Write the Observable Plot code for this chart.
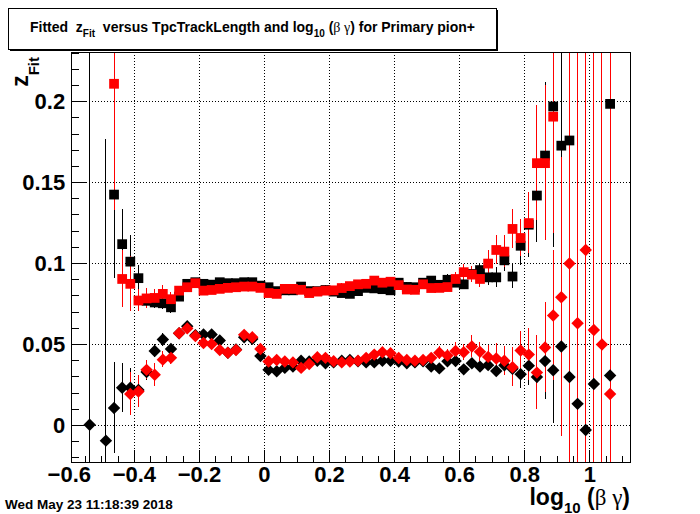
<!DOCTYPE html>
<html><head><meta charset="utf-8">
<script src="https://cdn.jsdelivr.net/npm/d3@7"></script>
<script src="https://cdn.jsdelivr.net/npm/@observablehq/plot@0.6"></script>
<style>body{margin:0;background:#fff}</style>
</head><body><div id="chart"></div>
<script>
// bin centres of log10(beta gamma)
const xBins = [-0.5375,-0.5125,-0.4875,-0.4625,-0.4375,-0.4125,-0.3875,-0.3625,-0.3375,-0.3125,
 -0.2875,-0.2625,-0.2375,-0.2125,-0.1875,-0.1625,-0.1375,-0.1125,-0.0875,-0.0625,
 -0.0375,-0.0125,0.0125,0.0375,0.0625,0.0875,0.1125,0.1375,0.1625,0.1875,
 0.2125,0.2375,0.2625,0.2875,0.3125,0.3375,0.3625,0.3875,0.4125,0.4375,
 0.4625,0.4875,0.5125,0.5375,0.5625,0.5875,0.6125,0.6375,0.6625,0.6875,
 0.7125,0.7375,0.7625,0.7875,0.8125,0.8375,0.8625,0.8875,0.9125,0.9375,
 0.9625,0.9875,1.0125,1.0375,1.0625];

// black squares
const blackSq = [null,null,null,0.1426,0.112,0.1012,0.091,0.077,0.076,0.0755,
 0.073,0.0796,0.0875,0.0885,0.0875,0.087,0.0885,0.0879,0.0879,0.0885,
 0.0885,0.0864,0.0854,0.083,0.0835,0.0835,0.0858,0.083,0.083,0.0837,
 0.0827,0.0818,0.0813,0.083,0.085,0.0847,0.0842,0.0835,0.0882,0.0856,
 0.0854,0.0882,0.0895,0.0869,0.09,0.0882,0.0872,0.0936,0.096,0.0915,
 0.0915,0.102,0.092,0.111,0.124,0.142,0.1667,0.197,0.1728,0.176,
 null,null,null,null,0.1986];
const blackSqErr = [0,0,0,0.052,0.0216,0.016,0.008,0.005,0.004,0.004,
 0.004,0.003,0.0025,0.0025,0.0025,0.0025,0.0025,0.0025,0.0025,0.0025,
 0.0025,0.0025,0.0025,0.0025,0.0025,0.0025,0.0025,0.0025,0.0025,0.0025,
 0.0025,0.0025,0.0025,0.0025,0.0025,0.0025,0.0025,0.0025,0.0025,0.0025,
 0.0025,0.0025,0.0025,0.0025,0.003,0.003,0.003,0.004,0.004,0.005,
 0.006,0.007,0.0075,0.012,0.02,0.029,0.045,0.087,0.1,0.12,
 0,0,0,0,0.2];

// red squares
const redSq = [null,null,null,0.211,0.0905,0.0875,0.0772,0.0785,0.0788,0.0813,
 0.078,0.0833,0.0854,0.0879,0.0833,0.0837,0.0844,0.085,0.0854,0.0858,
 0.0858,0.085,0.0818,0.0813,0.0844,0.0844,0.0838,0.0818,0.0827,0.0833,
 0.0835,0.0849,0.0861,0.0872,0.0875,0.0895,0.0882,0.0888,0.0867,0.084,
 0.0838,0.0872,0.0849,0.085,0.0855,0.0905,0.0947,0.0932,0.0905,0.1,
 0.1084,0.1074,0.1214,0.1158,0.125,0.162,0.162,0.1907,null,null,
 null,null,null,null,null];
const redSqErr = [0,0,0,0.078,0.0175,0.017,0.007,0.006,0.005,0.005,
 0.004,0.0025,0.0025,0.0025,0.0025,0.0025,0.0025,0.0025,0.0025,0.0025,
 0.0025,0.0025,0.0025,0.0025,0.0025,0.0025,0.0025,0.0025,0.0025,0.0025,
 0.0025,0.0025,0.0025,0.0025,0.0025,0.0025,0.0025,0.0025,0.0025,0.0025,
 0.0025,0.0025,0.0025,0.0025,0.003,0.004,0.005,0.005,0.005,0.008,
 0.009,0.01,0.012,0.0115,0.019,0.0355,0.048,0.072,0,0,
 0,0,0,0,0];

// black diamonds
const blackDia = [0.0005,null,-0.0093,0.0109,0.0233,0.0233,0.022,0.033,0.046,0.0531,
 0.0473,0.057,0.0613,0.0558,0.0562,0.0562,0.0525,0.045,0.047,0.0545,
 0.0535,0.043,0.0344,0.0335,0.0356,0.0364,0.04,0.0395,0.04,0.0385,
 0.039,0.04,0.0405,0.0397,0.039,0.039,0.04,0.04,0.0395,0.0385,
 0.039,0.0397,0.0364,0.0353,0.0397,0.0398,0.0347,0.0385,0.0364,0.0373,
 0.0337,0.0372,0.035,0.0317,0.037,0.03,0.0398,0.0342,0.0488,0.03,
 0.0134,-0.0027,0.0257,null,0.0309];
const blackDiaErr = [0.3,0,0.186,0.028,0.015,0.012,0.008,0.005,0.004,0.004,
 0.003,0.0025,0.0025,0.0025,0.0025,0.0025,0.0025,0.0025,0.0025,0.0025,
 0.0025,0.0025,0.0025,0.0025,0.0025,0.0025,0.0025,0.0025,0.0025,0.0025,
 0.0025,0.0025,0.0025,0.0025,0.0025,0.0025,0.0025,0.0025,0.0025,0.0025,
 0.0025,0.0025,0.0025,0.0025,0.0025,0.0025,0.0025,0.0025,0.0025,0.0025,
 0.003,0.004,0.005,0.009,0.012,0.013,0.024,0.033,0.05,0.08,
 0.1,0.1,0.12,0,0.15];

// red diamonds
const redDia = [null,null,null,null,null,0.0195,0.021,0.0344,0.0314,0.0407,
 0.0418,0.057,0.06,0.0553,0.051,0.0504,0.0467,0.0449,0.0467,0.056,
 0.0545,0.0473,0.0395,0.0405,0.0395,0.039,0.0356,0.038,0.0422,0.0418,
 0.0397,0.039,0.0395,0.04,0.0418,0.0438,0.0453,0.0446,0.0417,0.0405,
 0.04,0.0405,0.0418,0.045,0.0432,0.0461,0.0453,0.0488,0.0455,0.0424,
 0.0414,0.04,0.036,0.0463,0.0438,0.0327,0.0482,0.0679,0.0792,0.1,
 0.0632,0.1084,0.059,0.05,0.0195];
const redDiaErr = [0,0,0,0,0,0.013,0.01,0.006,0.007,0.005,
 0.004,0.0025,0.0025,0.0025,0.0025,0.0025,0.0025,0.0025,0.0025,0.0025,
 0.0025,0.0025,0.0025,0.0025,0.0025,0.0025,0.0025,0.0025,0.0025,0.0025,
 0.0025,0.0025,0.0025,0.0025,0.0025,0.0025,0.0025,0.0025,0.0025,0.0025,
 0.0025,0.0025,0.0025,0.004,0.004,0.005,0.005,0.007,0.006,0.007,
 0.0095,0.009,0.012,0.012,0.016,0.023,0.028,0.04,0.086,0.25,
 0.25,0.25,0.25,0.25,0.25];

const xTickLabels = [-0.6,-0.4,-0.2,0,0.2,0.4,0.6,0.8,1];
const yTickLabels = [0,0.05,0.1,0.15,0.2];
const xMinorTicks = [-0.55,-0.5,-0.45,-0.35,-0.3,-0.25,-0.15,-0.1,-0.05,0.05,0.1,0.15,0.25,0.3,0.35,0.45,0.5,0.55,0.65,0.7,0.75,0.85,0.9,0.95,1.05,1.1];
const yMinorTicks = [-0.02,-0.01,0.01,0.02,0.03,0.04,0.06,0.07,0.08,0.09,0.11,0.12,0.13,0.14,0.16,0.17,0.18,0.19,0.21,0.22,0.23];

const X0 = -0.5942, X1 = 1.1252, Y0 = -0.0228, Y1 = 0.2305;
const pxX = 325.3, pxY = 1620; // pixels per data unit

function rows(vals, errs) {
  return xBins.map((x, i) => ({x, v: vals[i], e: errs[i]})).filter(d => d.v != null);
}
const BS = rows(blackSq, blackSqErr), RS = rows(redSq, redSqErr),
      BD = rows(blackDia, blackDiaErr), RD = rows(redDia, redDiaErr);

const crisp = {shapeRendering: "crispEdges"};
const errBar = (data, color) => Plot.ruleX(data.filter(d => d.e > 0), {
  x: "x",
  y1: d => Math.max(d.v - d.e, Y0),
  y2: d => Math.min(d.v + d.e, Y1),
  stroke: color, strokeWidth: 1, ...crisp
});
const fmt = d => (d < 0 ? "\u2212" : "") + String(Math.abs(d));

const chart = Plot.plot({
  width: 700, height: 514,
  marginLeft: 70.7, marginRight: 70, marginTop: 51.7, marginBottom: 52,
  style: {fontFamily: "Liberation Sans, Arial, sans-serif", background: "white"},
  x: {domain: [X0, X1]},
  y: {domain: [Y0, Y1]},
  marks: [
    Plot.ruleX(xTickLabels.filter(d => d > X0), {stroke: "black", strokeDasharray: "1,2", strokeWidth: 1, ...crisp}),
    Plot.ruleY(yTickLabels, {stroke: "black", strokeDasharray: "1,2", strokeWidth: 1, ...crisp}),
    errBar(BS, "black"), errBar(BD, "black"),
    errBar(RS, "#ff0000"), errBar(RD, "#ff0000"),
    Plot.dot(BS, {x: "x", y: "v", symbol: "square", r: 5.5, fill: "black"}),
    Plot.dot(RS, {x: "x", y: "v", symbol: "square", r: 5.5, fill: "#ff0000"}),
    Plot.dot(BD, {x: "x", y: "v", symbol: "diamond2", r: 5.6, fill: "black"}),
    Plot.dot(RD, {x: "x", y: "v", symbol: "diamond2", r: 5.6, fill: "#ff0000"}),
    // inward ticks
    Plot.ruleX(xTickLabels.filter(d => d > X0), {x: d => d, y1: Y0, y2: Y0 + 12 / pxY, stroke: "black", ...crisp}),
    Plot.ruleX(xMinorTicks, {x: d => d, y1: Y0, y2: Y0 + 6 / pxY, stroke: "black", ...crisp}),
    Plot.ruleY(yTickLabels, {y: d => d, x1: X0, x2: X0 + 16.5 / pxX, stroke: "black", ...crisp}),
    Plot.ruleY(yMinorTicks, {y: d => d, x1: X0, x2: X0 + 8 / pxX, stroke: "black", ...crisp}),
    Plot.frame({stroke: "black", strokeWidth: 1, ...crisp}),
    Plot.axisX({ticks: xTickLabels, tickSize: 0, tickPadding: 4, tickFormat: fmt, label: null,
      fontSize: 22, fontWeight: "bold", fill: "black"}),
    Plot.axisY({ticks: yTickLabels, tickSize: 0, tickPadding: 6, tickFormat: fmt, label: null,
      fontSize: 22, fontWeight: "bold", fill: "black"})
  ]
});
document.getElementById("chart").appendChild(chart);

const svg = d3.select(chart);
const F = "Liberation Sans, Arial, sans-serif";
// title box with shadow
svg.append("rect").attr("x", 10).attr("y", 10).attr("width", 488).attr("height", 41).attr("fill", "black");
svg.append("rect").attr("x", 8.5).attr("y", 8.5).attr("width", 488).attr("height", 41)
  .attr("fill", "white").attr("stroke", "black");
const t = svg.append("text").attr("x", 252.5).attr("y", 32).attr("text-anchor", "middle")
  .style("font-family", F).style("font-weight", "bold").style("font-size", "14px").style("white-space", "pre");
t.append("tspan").text("Fitted  z");
t.append("tspan").attr("dy", 5).style("font-size", "10px").text("Fit");
t.append("tspan").attr("dy", -5).text("  versus TpcTrackLength and log");
t.append("tspan").attr("dy", 5).style("font-size", "10px").text("10");
t.append("tspan").attr("dy", -5).text(" (");
t.append("tspan").style("font-family", "Liberation Serif, serif").style("font-weight", "normal").text("\u03b2 \u03b3");
t.append("tspan").text(") for Primary pion+");

// x axis title
const xt = svg.append("text").attr("x", 630).attr("y", 505).attr("text-anchor", "end")
  .style("font-family", F).style("font-weight", "bold").style("font-size", "23px").style("white-space", "pre");
xt.append("tspan").text("log");
xt.append("tspan").attr("dy", 8).style("font-size", "15px").text("10");
xt.append("tspan").attr("dy", -8).text(" (");
xt.append("tspan").style("font-family", "Liberation Serif, serif").style("font-weight", "normal").text("\u03b2 \u03b3");
xt.append("tspan").text(")");

// y axis title
const yt = svg.append("text").attr("transform", "translate(28,57) rotate(-90)").attr("text-anchor", "end")
  .style("font-family", F).style("font-weight", "bold").style("font-size", "23px");
yt.append("tspan").text("z");
yt.append("tspan").attr("dy", 11).style("font-size", "15px").text("Fit");

// date stamp
svg.append("text").attr("x", 5).attr("y", 509).attr("text-anchor", "start")
  .style("font-family", F).style("font-weight", "bold").style("font-size", "13.5px")
  .text("Wed May 23 11:18:39 2018");
</script>
</body></html>
